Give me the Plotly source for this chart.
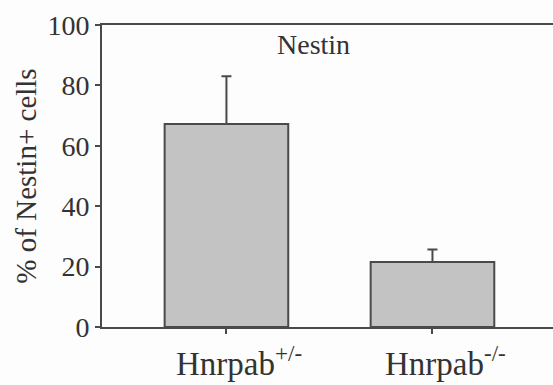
import plotly.graph_objects as go

# Percentage of Nestin-positive cells per genotype
genotypes = ["Hnrpab<sup>+/-</sup>", "Hnrpab<sup>-/-</sup>"]
percent_nestin = [67.2, 21.5]
sem_upper = [15.8, 4.2]

font_family = "Liberation Serif, Times New Roman, serif"
text_color = "#333333"
line_color = "#4a4a4a"
positions = list(range(len(genotypes)))

fig = go.Figure(
    go.Bar(
        x=positions,
        y=percent_nestin,
        width=0.6,
        marker=dict(color="#c3c3c3", line=dict(color=line_color, width=2)),
        error_y=dict(
            type="data",
            symmetric=False,
            array=sem_upper,
            arrayminus=[0] * len(sem_upper),
            color=line_color,
            thickness=2,
            width=5,
        ),
    )
)

fig.add_annotation(
    text="Nestin",
    x=0.47,
    y=93.5,
    xref="paper",
    yref="y",
    showarrow=False,
    font=dict(family=font_family, size=28, color=text_color),
)

# Category labels, set slightly right of the tick marks
for pos, label in zip(positions, genotypes):
    fig.add_annotation(
        text=label,
        x=pos,
        y=0,
        xref="x",
        yref="paper",
        xanchor="center",
        yanchor="top",
        xshift=13,
        yshift=-11,
        showarrow=False,
        font=dict(family=font_family, size=33, color=text_color),
    )

fig.update_layout(
    width=553,
    height=385,
    margin=dict(l=102, r=0, t=25, b=58),
    paper_bgcolor="#fdfdfd",
    plot_bgcolor="#fdfdfd",
    showlegend=False,
    font=dict(family=font_family, size=28, color=text_color),
)

fig.update_xaxes(
    range=[-0.604, 1.585],
    tickmode="array",
    tickvals=positions,
    showticklabels=False,
    showline=True,
    linecolor=line_color,
    linewidth=2,
    mirror=True,
    ticks="outside",
    ticklen=5,
    tickwidth=2,
    tickcolor=line_color,
    showgrid=False,
    zeroline=False,
)

fig.update_yaxes(
    range=[0, 100],
    tickvals=[0, 20, 40, 60, 80, 100],
    showline=True,
    linecolor=line_color,
    linewidth=2,
    ticks="outside",
    ticklen=5,
    tickwidth=2,
    tickcolor=line_color,
    showgrid=False,
    zeroline=False,
    title=dict(text="% of Nestin+ cells", font=dict(size=29), standoff=2),
    ticklabelstandoff=0,
)

fig.write_html("out.html")
